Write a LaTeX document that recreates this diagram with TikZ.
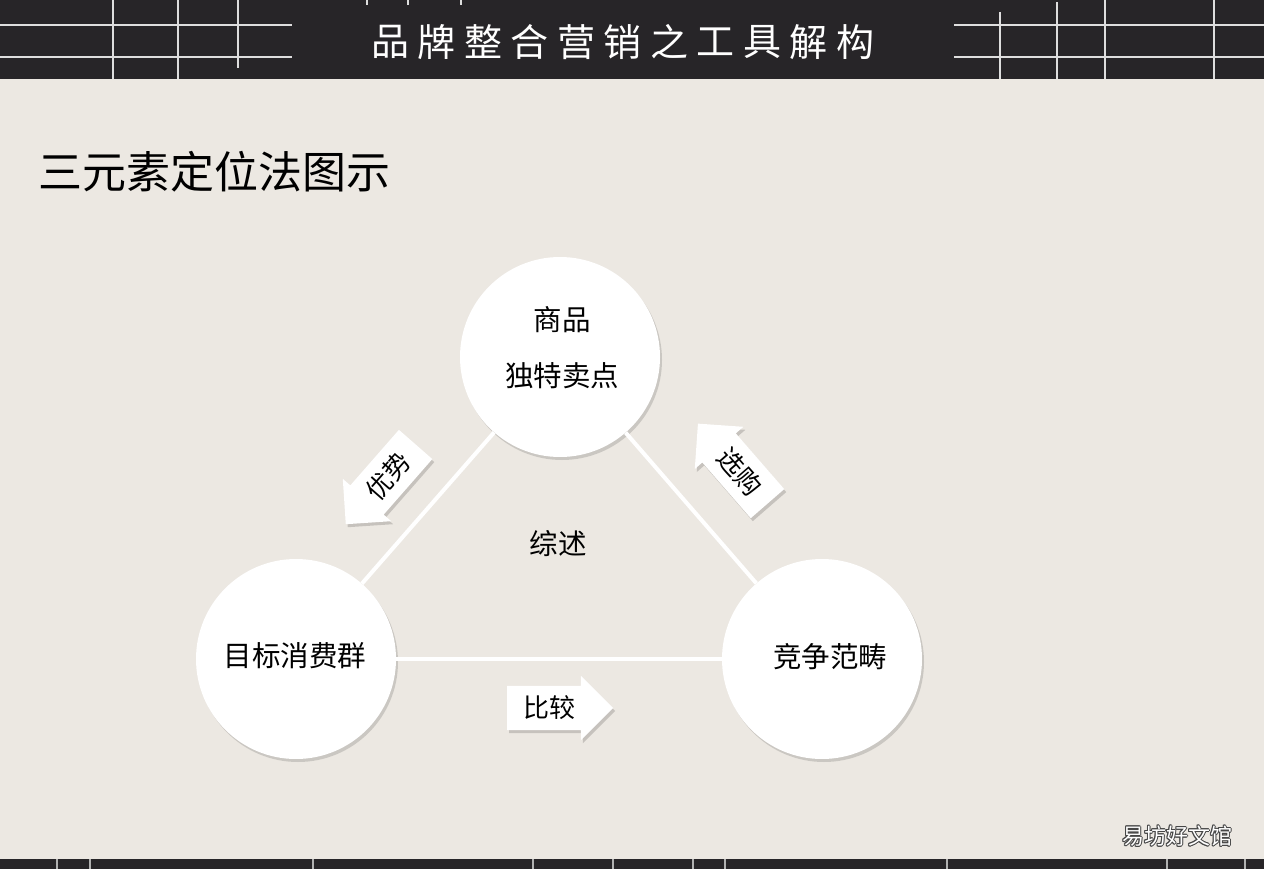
\documentclass[tikz,border=0pt]{standalone}
\usepackage{fontspec}
\newfontfamily\cjk{Noto Sans CJK SC}
\usetikzlibrary{shapes.arrows,shadows}
\definecolor{bgc}{RGB}{236,232,226}
\definecolor{barc}{RGB}{39,37,40}
\definecolor{gridc}{RGB}{222,222,222}
\definecolor{wmline}{RGB}{70,70,70}
\begin{document}
\begin{tikzpicture}[x=1pt,y=-1pt,
  circ/.style={circle, fill=white, minimum size=200pt, inner sep=0pt, align=center,
    drop shadow={shadow xshift=2pt, shadow yshift=-3pt, opacity=0.14, fill=black}},
  lbl/.style={font=\cjk\fontsize{28.5}{30}\selectfont, inner sep=0pt},
  link/.style={draw=white, line width=4pt},
  barrow/.style={single arrow, fill=white, single arrow head extend=10pt,
    minimum height=106pt, inner xsep=4pt, inner ysep=10pt,
    font=\cjk\fontsize{26}{28}\selectfont,
    drop shadow={shadow xshift=2pt, shadow yshift=-3pt, opacity=0.16, fill=black}},
  gridline/.style={draw=gridc, line width=2.2pt},
  sep/.style={draw=gridc!80!black, line width=1.5pt},
  ttl/.style={text=white, font=\cjk\fontsize{38}{40}\selectfont, inner sep=0pt},
]
\useasboundingbox (0,0) rectangle (1264,869);
\fill[bgc] (0,0) rectangle (1264,869);
% header band
\fill[barc] (0,0) rectangle (1264,79);
\draw[gridline] (0,25) -- (292,25) (0,57) -- (292,57);
\draw[gridline] (113,0) -- (113,79) (178,0) -- (178,79) (238,0) -- (238,68);
\draw[gridline] (954,25) -- (1264,25) (954,57) -- (1264,57);
\draw[gridline] (1000,12) -- (1000,79) (1057,2) -- (1057,79) (1105,0) -- (1105,79) (1214,0) -- (1214,79);
\draw[gridline, line width=1.5pt] (367,0) -- (367,5) (408,0) -- (408,5) (461,0) -- (461,5);
\foreach \c [count=\i from 0] in {品,牌,整,合,营,销,之,工,具,解,构}
  \node[ttl] (t\i) at (390+46.5*\i,42) {\c};
% footer band
\fill[barc] (0,859) rectangle (1264,869);
\foreach \x in {57,90,313,533,613,693,725,947,1167,1245}
  \draw[sep] (\x,859) -- (\x,869);
% subtitle
\node[anchor=west, inner sep=0pt, font=\cjk\fontsize{44}{46}\selectfont] (sub) at (38,172) {三元素定位法图示};
% circles
\node[circ] (top) at (560,357) {};
\node[circ] (left) at (296,659) {};
\node[circ] (right) at (822,659) {};
\node[lbl] (tp1) at (562,320) {商品};
\node[lbl] (tp2) at (562,376) {独特卖点};
\node[lbl] (lt) at (295,656) {目标消费群};
\node[lbl] (rt) at (830,657) {竞争范畴};
% connecting lines
\draw[link] (top) -- (left);
\draw[link] (top) -- (right);
\draw[link] (left) -- (right);
\node[lbl] (mid) at (558,544) {综述};
% block arrows
\node[barrow] (cmp) at (549,708) {比较};
\node[barrow, rotate=48.8, shape border rotate=180] (adv) at (388,476) {优势};
\node[barrow, rotate=-49, shape border rotate=180] (buy) at (740,472) {选购};
% watermark
\foreach \dx/\dy in {-1/0,1/0,0/-1,0/1,-0.8/-0.8,0.8/0.8,-0.8/0.8,0.8/-0.8}
  \node[text=wmline, font=\cjk\fontsize{22}{24}\selectfont, inner sep=0pt] at (1177+\dx,836+\dy) {易坊好文馆};
\node[text=white, font=\cjk\fontsize{22}{24}\selectfont, inner sep=0pt] (wm) at (1177,836) {易坊好文馆};
\end{tikzpicture}
\end{document}
